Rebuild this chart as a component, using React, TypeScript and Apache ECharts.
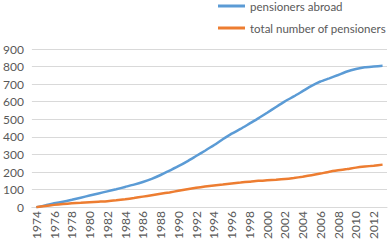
import React, { useEffect, useRef } from "react";
import * as echarts from "echarts";

const years: string[] = [];
for (let y = 1974; y <= 2013; y++) years.push(String(y));

const pensionersAbroad = [
  0, 10, 22, 31, 42, 54, 66, 78, 90, 102,
  115, 128, 143, 161, 183, 208, 233, 261, 291, 321,
  352, 386, 418, 445, 475, 505, 537, 570, 602, 630,
  660, 690, 715, 733, 752, 772, 786, 796, 800, 804,
];

const totalPensioners = [
  0, 7, 13, 18, 22, 25, 28, 31, 34, 39,
  45, 52, 60, 68, 76, 84, 93, 102, 110, 117,
  123, 129, 135, 140, 145, 150, 153, 156, 160, 166,
  173, 181, 191, 202, 210, 217, 225, 231, 236, 242,
];

const seriesNames = ["pensioners abroad", "total number of pensioners"];
const yTicks = { min: 0, max: 900, interval: 100 };

const FONT = "Lato, 'Liberation Sans', sans-serif";
const TEXT = "#595959";

export default function App() {
  const ref = useRef<HTMLDivElement>(null);
  useEffect(() => {
    document.body.style.margin = "0";
    if (!ref.current) return;
    const chart = echarts.init(ref.current, undefined, { renderer: "svg" });
    chart.setOption({
      animation: false,
      backgroundColor: "#ffffff",
      textStyle: { fontFamily: FONT },
      grid: { left: 29, right: 1, top: 49, bottom: 32, containLabel: false },
      legend: {
        orient: "vertical",
        left: 218,
        top: 0,
        padding: 0,
        itemGap: 10,
        itemWidth: 27,
        itemHeight: 3,
        icon: "rect",
        textStyle: { color: TEXT, fontSize: 11.5, fontFamily: FONT },
        data: seriesNames,
      },
      xAxis: {
        type: "category",
        data: years,
        boundaryGap: true,
        axisLine: { show: true, lineStyle: { color: "#D9D9D9", width: 1 } },
        axisTick: { show: false },
        axisLabel: {
          interval: 1,
          rotate: 90,
          margin: 4,
          color: TEXT,
          fontSize: 12,
          fontFamily: FONT,
        },
        splitLine: { show: false },
      },
      yAxis: {
        type: "value",
        min: yTicks.min,
        max: yTicks.max,
        interval: yTicks.interval,
        axisLine: { show: false },
        axisTick: { show: false },
        axisLabel: { color: TEXT, fontSize: 12, margin: 8, fontFamily: FONT },
        splitLine: { lineStyle: { color: "#D9D9D9", width: 1 } },
      },
      series: [
        {
          name: seriesNames[0],
          type: "line",
          data: pensionersAbroad,
          symbol: "none",
          smooth: 0.2,
          lineStyle: { color: "#5B9BD5", width: 2.5 },
          itemStyle: { color: "#5B9BD5" },
        },
        {
          name: seriesNames[1],
          type: "line",
          data: totalPensioners,
          symbol: "none",
          smooth: 0.2,
          lineStyle: { color: "#ED7D31", width: 2.5 },
          itemStyle: { color: "#ED7D31" },
        },
      ],
    });
    return () => chart.dispose();
  }, []);
  return (
    <div
      ref={ref}
      style={{ position: "absolute", left: 0, top: 0, width: 388, height: 242 }}
    />
  );
}
